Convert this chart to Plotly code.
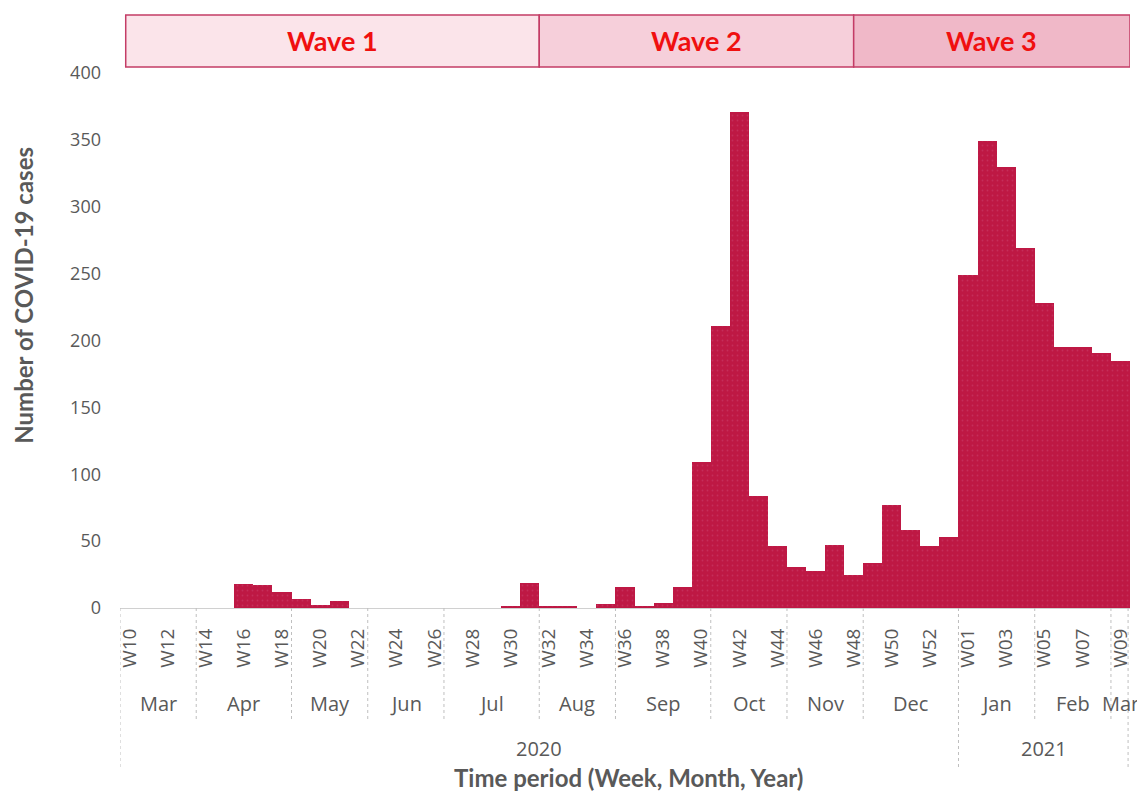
import plotly.graph_objects as go

# ---------------- data ----------------
weeks = [f"W{w:02d}" for w in range(10, 54)] + [f"W{w:02d}" for w in range(1, 10)]
cases = [0, 0, 0, 0, 0, 0, 18, 17, 12, 7, 2, 5,          # W10-W21
         0, 0, 0, 0, 0, 0, 0, 0,                          # W22-W29
         1, 19, 1, 1, 0, 3, 16, 1, 4, 16,                 # W30-W39
         109, 211, 371, 84, 46, 31, 28, 47, 25,           # W40-W48
         34, 77, 58, 46, 53,                              # W49-W53
         249, 349, 330, 269,                              # W01-W04 2021
         228, 195, 195, 191, 185]                         # W05-W09 2021
months = ["Mar", "Apr", "May", "Jun", "Jul", "Aug", "Sep", "Oct", "Nov", "Dec", "Jan", "Feb", "Mar"]
month_weeks = [4, 5, 4, 4, 5, 4, 5, 4, 4, 5, 4, 4, 1]
years = ["2020", "2021"]
year_weeks = [44, 9]
waves = ["Wave 1", "Wave 2", "Wave 3"]
wave_bounds = [-0.2, 21.5, 38.0, 52.5]
wave_fills = ["#FBE4EA", "#F6CFDA", "#F0B8C8"]

BAR = "#BE1844"
GREY = "#595959"
FONT = "'Open Sans', sans-serif"
BOLD = "Lato, sans-serif"

x = list(range(len(weeks)))

fig = go.Figure()
fig.add_trace(go.Bar(
    x=x, y=cases, width=1.0,
    marker=dict(color=BAR, line=dict(width=0),
                pattern=dict(shape=".", fgcolor="#CC4470", bgcolor=BAR, size=5, solidity=0.1)),
    hoverinfo="y",
))

# week tick labels (every other week)
tickvals = x[::2]
ticktext = [weeks[i] for i in tickvals]

shapes = []
annotations = []

def ypix(py):
    # reference pixel row -> paper coordinate (baseline at 608, top of axis at 73)
    return (608 - py) / 535.0

def xpaper(px):
    return (px - 120.5) / 1012.5

# month boundaries and labels
pos = -0.5
for m, n in zip(months, month_weeks):
    annotations.append(dict(x=pos + n / 2.0, y=ypix(703), xref="x", yref="paper",
                            xanchor="center", yanchor="middle",
                            text=m, showarrow=False, font=dict(size=20, color=GREY, family=FONT)))
    pos += n
    if pos < 52.4:
        shapes.append(dict(type="line", xref="x", yref="paper", x0=pos, x1=pos,
                           y0=0, y1=ypix(720), line=dict(color="#BFBFBF", width=1, dash="dot")))

# year boundaries and labels
pos = -0.5
shapes.append(dict(type="line", xref="x", yref="paper", x0=pos, x1=pos, y0=0, y1=ypix(767),
                   line=dict(color="#BFBFBF", width=1, dash="dot")))
for yr, n in zip(years, year_weeks):
    annotations.append(dict(x=pos + n / 2.0, y=ypix(748), xref="x", yref="paper",
                            xanchor="center", yanchor="middle",
                            text=yr, showarrow=False, font=dict(size=20, color=GREY, family=FONT)))
    pos += n
    xx = pos - (0.1 if pos > 52 else 0)
    shapes.append(dict(type="line", xref="x", yref="paper", x0=xx, x1=xx, y0=0, y1=ypix(767),
                       line=dict(color="#BFBFBF", width=1, dash="dot")))

# wave banner
for i, w in enumerate(waves):
    x0, x1 = wave_bounds[i], wave_bounds[i + 1]
    shapes.append(dict(type="rect", xref="x", yref="paper", x0=x0, x1=x1,
                       y0=ypix(67), y1=ypix(15), fillcolor=wave_fills[i],
                       line=dict(color="#C43C66", width=1.5), layer="above"))
    annotations.append(dict(x=(x0 + x1) / 2.0, y=ypix(41), xref="x", yref="paper",
                            xanchor="center", yanchor="middle",
                            text=f"<b>{w}</b>", showarrow=False,
                            font=dict(size=27, color="#F01010", family=BOLD)))

# axis titles
annotations.append(dict(x=xpaper(23), y=ypix(295), xref="paper", yref="paper",
                        xanchor="center", yanchor="middle",
                        text="<b>Number of COVID-19 cases</b>", textangle=-90, showarrow=False,
                        font=dict(size=24, color=GREY, family=BOLD)))
annotations.append(dict(x=xpaper(630), y=ypix(777), xref="paper", yref="paper",
                        xanchor="center", yanchor="middle",
                        text="<b>Time period (Week, Month, Year)</b>", showarrow=False,
                        font=dict(size=24, color=GREY, family=BOLD)))

# page has an 8px body margin: the figure is offset by 8px so the plot sits where the reference has it
fig.update_layout(
    width=1137, height=784,
    margin=dict(l=112, r=12, t=65, b=184),
    paper_bgcolor="white", plot_bgcolor="white",
    bargap=0, showlegend=False,
    font=dict(family=FONT, color=GREY),
    shapes=shapes, annotations=annotations,
    xaxis=dict(range=[-0.5, 52.5], tickvals=tickvals, ticktext=ticktext, tickangle=-90,
               showgrid=False, zeroline=False, showline=True, linecolor="#D0D0D0", linewidth=1,
               ticks="", ticklabelstandoff=12, tickfont=dict(size=19, color=GREY, family=FONT),
               fixedrange=True),
    yaxis=dict(range=[0, 400], dtick=50, showgrid=False, zeroline=False, showline=False,
               ticks="", ticklabelstandoff=18, tickfont=dict(size=18, color=GREY, family=FONT),
               fixedrange=True),
)

fig.write_html("out.html")
